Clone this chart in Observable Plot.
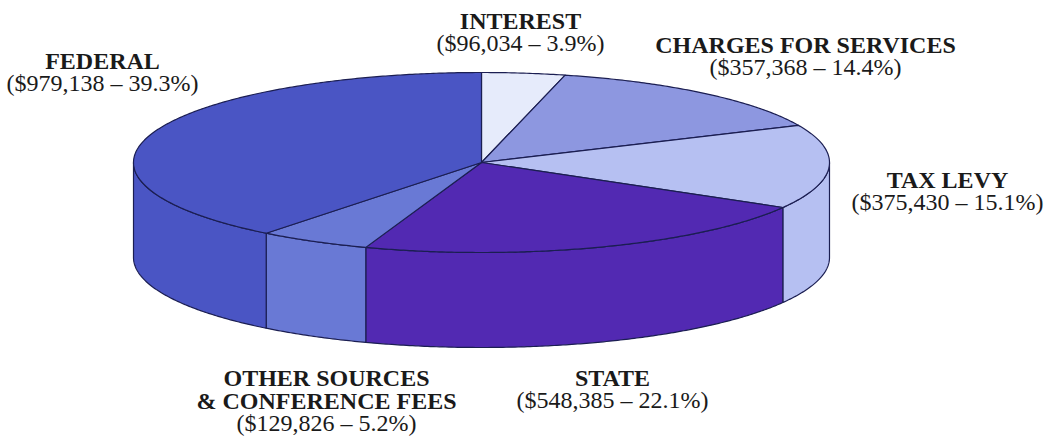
<!DOCTYPE html>
<html>
<head>
<meta charset="utf-8">
<script src="https://cdn.jsdelivr.net/npm/d3@7"></script>
<script src="https://cdn.jsdelivr.net/npm/@observablehq/plot@0.6"></script>
<style>
  html, body { margin: 0; padding: 0; background: #ffffff; }
  #chart svg { display: block; }
</style>
</head>
<body>
<div id="chart"></div>
<script>
// ---- Data (clockwise from 12 o'clock) ----
const categories = ["INTEREST", "CHARGES FOR SERVICES", "TAX LEVY", "STATE", "OTHER SOURCES\n& CONFERENCE FEES", "FEDERAL"];
const amounts = [96034, 357368, 375430, 548385, 129826, 979138];
const percents = [3.9, 14.4, 15.1, 22.1, 5.2, 39.3];

// ---- Styles ----
const colors = ["#e6ebfb", "#8d97e0", "#b6c0f2", "#5229b2", "#6979d5", "#4a55c4"];
const outline = "#1b1e52";

// ---- Layout (pixel label anchors: baseline of the last bold line) ----
const labelPx = [520, 805, 947, 612, 326, 102];
const labelPy = [28, 52, 187, 385, 408, 68];
const cx = 481, cy = 162, rx = 348, ry = 90, depthPx = 95;
const DEPTH = depthPx / ry;

const pie = d3.pie().sort(null).value(d => d)(amounts);
const step = Math.PI / 360;
function arcPts(a0, a1) {
  const n = Math.max(2, Math.ceil((a1 - a0) / step));
  return d3.range(n + 1).map(i => a0 + (a1 - a0) * i / n);
}
const tops = [], walls = [];
pie.forEach((p, i) => {
  const cat = categories[i];
  tops.push({cat, x: 0, y: 0});
  for (const t of arcPts(p.startAngle, p.endAngle)) tops.push({cat, x: Math.sin(t), y: Math.cos(t)});
  const lo = Math.max(p.startAngle, Math.PI / 2), hi = Math.min(p.endAngle, 3 * Math.PI / 2);
  if (hi > lo) {
    const ts = arcPts(lo, hi);
    for (const t of ts) walls.push({cat, x: Math.sin(t), y: Math.cos(t)});
    for (const t of ts.slice().reverse()) walls.push({cat, x: Math.sin(t), y: Math.cos(t) - DEPTH});
  }
});

const fmt = d3.format(",");
const labels = categories.map((c, i) => ({
  title: c,
  value: `($${fmt(amounts[i])} – ${percents[i]}%)`,
  x: (labelPx[i] - cx) / rx,
  y: (cy - labelPy[i]) / ry
}));

const font = "'Liberation Serif', 'Times New Roman', serif";
const chart = Plot.plot({
  width: 1046,
  height: 437,
  margin: 0,
  style: {background: "#ffffff"},
  x: {domain: [-1, 1], range: [cx - rx, cx + rx], axis: null},
  y: {domain: [-1, 1], range: [cy + ry, cy - ry], axis: null},
  color: {domain: categories, range: colors},
  marks: [
    Plot.line(walls, {x: "x", y: "y", z: "cat", fill: "cat", stroke: outline, strokeWidth: 1.2, strokeLinejoin: "round", curve: "linear-closed"}),
    Plot.line(tops, {x: "x", y: "y", z: "cat", fill: "cat", stroke: outline, strokeWidth: 1.2, strokeLinejoin: "round", curve: "linear-closed"}),
    Plot.text(labels, {x: "x", y: "y", text: "title", fontWeight: "bold", fontSize: 24, fontFamily: font, lineAnchor: "bottom", lineHeight: 0.93, fill: "#1a1a1a"}),
    Plot.text(labels, {x: "x", y: "y", text: "value", dy: 22, fontSize: 24, fontFamily: font, lineAnchor: "bottom", fill: "#1a1a1a"})
  ]
});
document.getElementById("chart").appendChild(chart);
</script>
</body>
</html>
